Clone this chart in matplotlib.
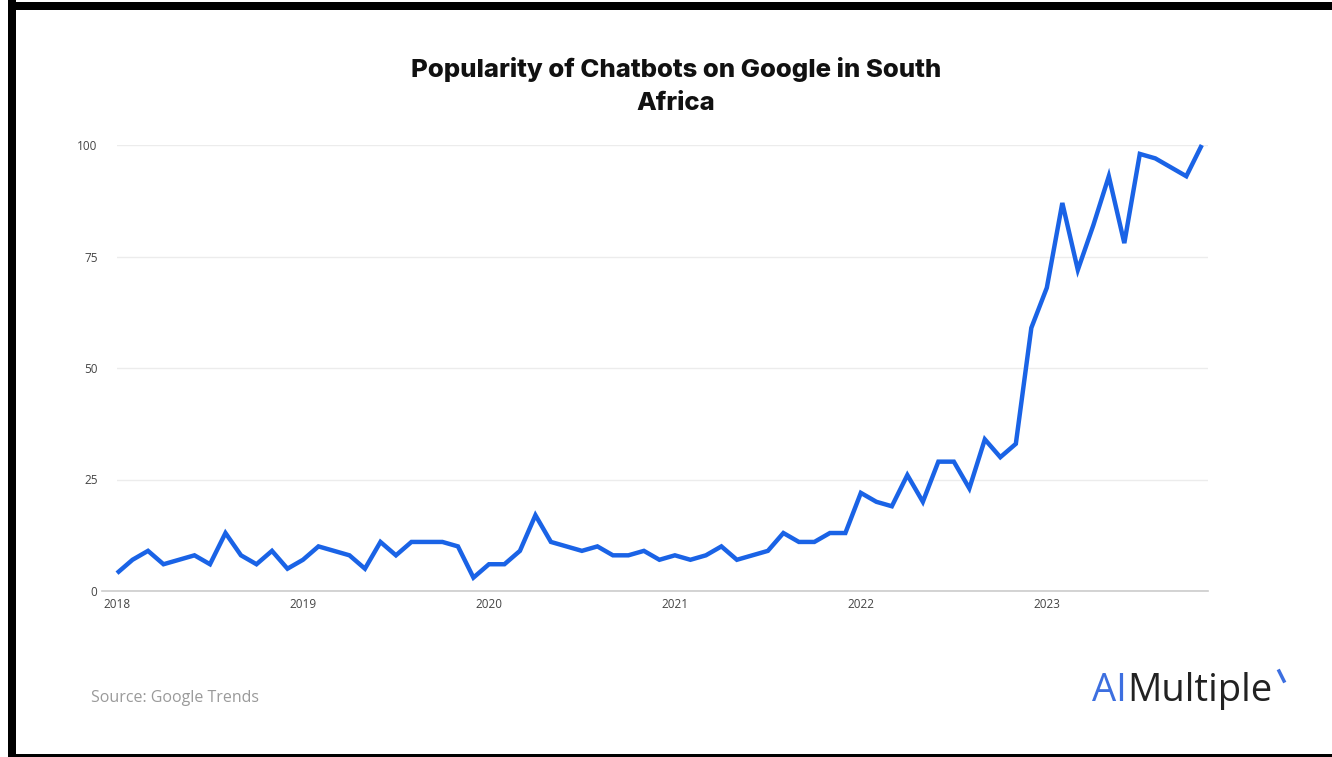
import numpy as np
import matplotlib
matplotlib.use("Agg")
import matplotlib.pyplot as plt
from matplotlib.patches import Rectangle
from matplotlib.lines import Line2D

# Google Trends interest, monthly, Jan 2018 - Nov 2023
years = ["2018", "2019", "2020", "2021", "2022", "2023"]
v2018 = [4, 7, 9, 6, 7, 8, 6, 13, 8, 6, 9, 5]
v2019 = [7, 10, 9, 8, 5, 11, 8, 11, 11, 11, 10, 3]
v2020 = [6, 6, 9, 17, 11, 10, 9, 10, 8, 8, 9, 7]
v2021 = [8, 7, 8, 10, 7, 8, 9, 13, 11, 11, 13, 13]
v2022 = [22, 20, 19, 26, 20, 29, 29, 23, 34, 30, 33, 59]
v2023 = [68, 87, 72, 82, 93, 78, 98, 97, 95, 93, 100]
yticks = [0, 25, 50, 75, 100]

values = v2018 + v2019 + v2020 + v2021 + v2022 + v2023
months = np.arange(len(values))
year_pos = [12 * i for i in range(len(years))]

W, H = 1332, 757
fig = plt.figure(figsize=(W / 100, H / 100), dpi=100)
fig.patch.set_facecolor("white")

ax = fig.add_axes([117 / W, 1 - 591 / H, (1208 - 117) / W, (591 - 145) / H])
ax.plot(months, values, color="#1a63e6", lw=3.2, solid_joinstyle="miter",
        solid_capstyle="butt", clip_on=False, zorder=3)
ax.set_xlim(0, 70.4)
ax.set_ylim(0, 100)

ax.set_yticks(yticks)
ax.set_yticklabels([str(t) for t in yticks])
ax.set_xticks(year_pos)
ax.set_xticklabels(years)
ax.tick_params(axis="both", length=0, labelsize=8.5, labelcolor="#444444")
ax.tick_params(axis="y", pad=14)
ax.tick_params(axis="x", pad=5)
for lab in ax.get_xticklabels() + ax.get_yticklabels():
    lab.set_family("Open Sans")

ax.grid(axis="y", color="#ececec", lw=1)
ax.set_axisbelow(True)
for s in ["top", "right", "left"]:
    ax.spines[s].set_visible(False)
ax.spines["bottom"].set_color("#cccccc")
ax.spines["bottom"].set_linewidth(1.2)
ax.spines["bottom"].set_bounds(-1.0, 70.4)

fig.text(676 / W, 1 - 70 / H, "Popularity of Chatbots on Google in South",
         ha="center", va="center", fontsize=18.5, fontweight=800,
         family="Inter", color="#111111")
fig.text(676 / W, 1 - 104 / H, "Africa", ha="center", va="center",
         fontsize=18.5, fontweight=800, family="Inter", color="#111111")

fig.text(91 / W, 1 - 698 / H, "Source: Google Trends", ha="left",
         va="center", fontsize=11.5, family="Open Sans", color="#9a9a9a")

# logo
t1 = fig.text(1092 / W, 1 - 691 / H, "AI", ha="left", va="center",
              fontsize=27.5, family="Open Sans", color="#3d6fe0")
fig.canvas.draw()
bb = t1.get_window_extent()
fig.text(bb.x1 / W, 1 - 691 / H, "Multiple", ha="left", va="center",
         fontsize=27.5, family="Open Sans", color="#222222")
fig.add_artist(Line2D([1279 / W, 1284 / W], [1 - 671 / H, 1 - 681 / H],
                      color="#3d6fe0", lw=2.5, transform=fig.transFigure))

# frame
fig.add_artist(Rectangle((8 / W, 0), 8 / W, 1, transform=fig.transFigure,
                         color="black", lw=0))
fig.add_artist(Rectangle((8 / W, 1 - 10 / H), 1, 8 / H,
                         transform=fig.transFigure, color="black", lw=0))
fig.add_artist(Rectangle((8 / W, 0), 1, 3 / H, transform=fig.transFigure,
                         color="black", lw=0))

fig.savefig("out.png", dpi=100)
